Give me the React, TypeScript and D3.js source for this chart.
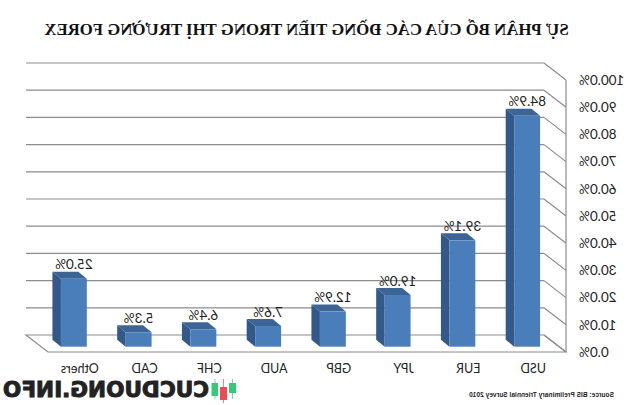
import React from "react";
import * as d3 from "d3";

const title = "SỰ PHÂN BỔ CỦA CÁC ĐỒNG TIỀN TRONG THỊ TRƯỜNG FOREX";
const source = "Source: BIS Preliminary Triennial Survey  2010";
const brand = "CUCDUONG.INFO";

const categories = ["USD", "EUR", "JPY", "GBP", "AUD", "CHF", "CAD", "Others"];
const shares = [84.9, 39.1, 19.0, 12.9, 7.6, 6.4, 5.3, 25.0];
const ticks = d3.range(0, 101, 10);

// the source picture is flipped left to right, so everything is drawn
// normally and the whole group gets mirrored
const W = 640;
const H = 405;
const wallDx = 22; // depth of the 3d box
const wallDy = 17;
const barDx = 8.5; // depth of a bar
const barDy = 7;

const y = d3.scaleLinear().domain([0, 100]).range([352, 80]);
const x = d3.scaleLinear().domain([0, 1]).range([74, 592]);
const band = d3
  .scaleBand()
  .domain(categories)
  .range([80.5, 598.5])
  .paddingInner(0.6)
  .paddingOuter(0.3);

const fmt = (v: number) => v.toFixed(1) + "%";
const pts = (p: number[][]) => p.map((d) => d.join(",")).join(" ");

const labelFont = "Lato, 'Noto Sans', sans-serif";
const green = "#35c97a";
const red = "#ee4b55";

export default function App() {
  const x0 = x(0);
  const x1 = x(1);
  const floorY = y(0);
  return (
    <svg
      width={W}
      height={H}
      viewBox={`0 0 ${W} ${H}`}
      style={{ position: "absolute", left: 0, top: 0, background: "#fff" }}
    >
      <g transform={`translate(${W},0) scale(-1,1)`}>
        <text
          x={333.5}
          y={35}
          textAnchor="middle"
          fontFamily="'Liberation Serif', serif"
          fontWeight="bold"
          fontSize={16.8}
          fill="#111"
        >
          {title}
        </text>

        {/* walls */}
        {ticks.map((t) => (
          <g key={t} stroke="#8c8c8c" strokeWidth={1.2} fill="none">
            <line x1={x0} x2={x0 + wallDx} y1={y(t)} y2={y(t) - wallDy} />
            {t > 0 && <line x1={x0 + wallDx} x2={x1 + wallDx} y1={y(t) - wallDy} y2={y(t) - wallDy} />}
          </g>
        ))}
        <polygon
          points={pts([
            [x0, floorY],
            [x1, floorY],
            [x1 + wallDx, floorY - wallDy],
            [x0 + wallDx, floorY - wallDy],
          ])}
          fill="none"
          stroke="#8c8c8c"
          strokeWidth={1.2}
        />
        <line x1={x0} x2={x0} y1={y(100)} y2={floorY} stroke="#8c8c8c" strokeWidth={1.2} />

        {/* value axis */}
        {ticks.map((t) => (
          <text
            key={t}
            x={61}
            y={y(t)}
            dy="0.35em"
            textAnchor="end"
            fontFamily={labelFont}
            fontSize={13.5}
            fill="#222"
          >
            {fmt(t)}
          </text>
        ))}

        {/* bars */}
        {categories.map((c, i) => {
          const v = shares[i];
          const left = band(c)!;
          const bw = band.bandwidth();
          const base = y(0) - 5.3;
          const top = y(v) - 5.3;
          return (
            <g key={c}>
              <polygon
                points={pts([
                  [left, top],
                  [left + bw, top],
                  [left + bw + barDx, top - barDy],
                  [left + barDx, top - barDy],
                ])}
                fill="#3c6595"
              />
              <polygon
                points={pts([
                  [left + bw, top],
                  [left + bw + barDx, top - barDy],
                  [left + bw + barDx, base - barDy],
                  [left + bw, base],
                ])}
                fill="#33598a"
              />
              <rect x={left} y={top} width={bw} height={base - top} fill="#4a7ebb" />
              <text
                x={left + bw / 2}
                y={top - barDy - 7}
                dy="0.35em"
                textAnchor="middle"
                fontFamily={labelFont}
                fontSize={13.5}
                fill="#222"
              >
                {fmt(v)}
              </text>
              <text
                x={left + bw / 2 - 6}
                y={369}
                dy="0.35em"
                textAnchor="middle"
                fontFamily={labelFont}
                fontSize={12.5}
                fill="#222"
              >
                {c}
              </text>
            </g>
          );
        })}

        <text
          x={26}
          y={396.5}
          fontFamily="'Liberation Sans', sans-serif"
          fontSize={6.5}
          fontWeight="bold"
          fill="#222"
          textLength={145}
        >
          {source}
        </text>

        {/* watermark logo */}
        <text
          x={431}
          y={397}
          fontFamily="'DejaVu Sans', sans-serif"
          fontWeight="bold"
          fontSize={20.5}
          fill="#222"
          textLength={206}
          lengthAdjust="spacingAndGlyphs"
          stroke="#222"
          strokeWidth={0.9}
        >
          {brand}
        </text>
        <line x1={425} x2={425} y1={379} y2={399} stroke={green} opacity={0.7} />
        <rect x={422} y={383} width={6.5} height={13} fill={green} />
        <line x1={416.5} x2={416.5} y1={379} y2={403} stroke={red} opacity={0.7} />
        <rect x={413} y={387} width={7} height={13} fill={red} />
        <line x1={407.5} x2={407.5} y1={379} y2={399} stroke={green} opacity={0.7} />
        <rect x={404} y={383} width={7} height={10} fill={green} />
      </g>
    </svg>
  );
}
